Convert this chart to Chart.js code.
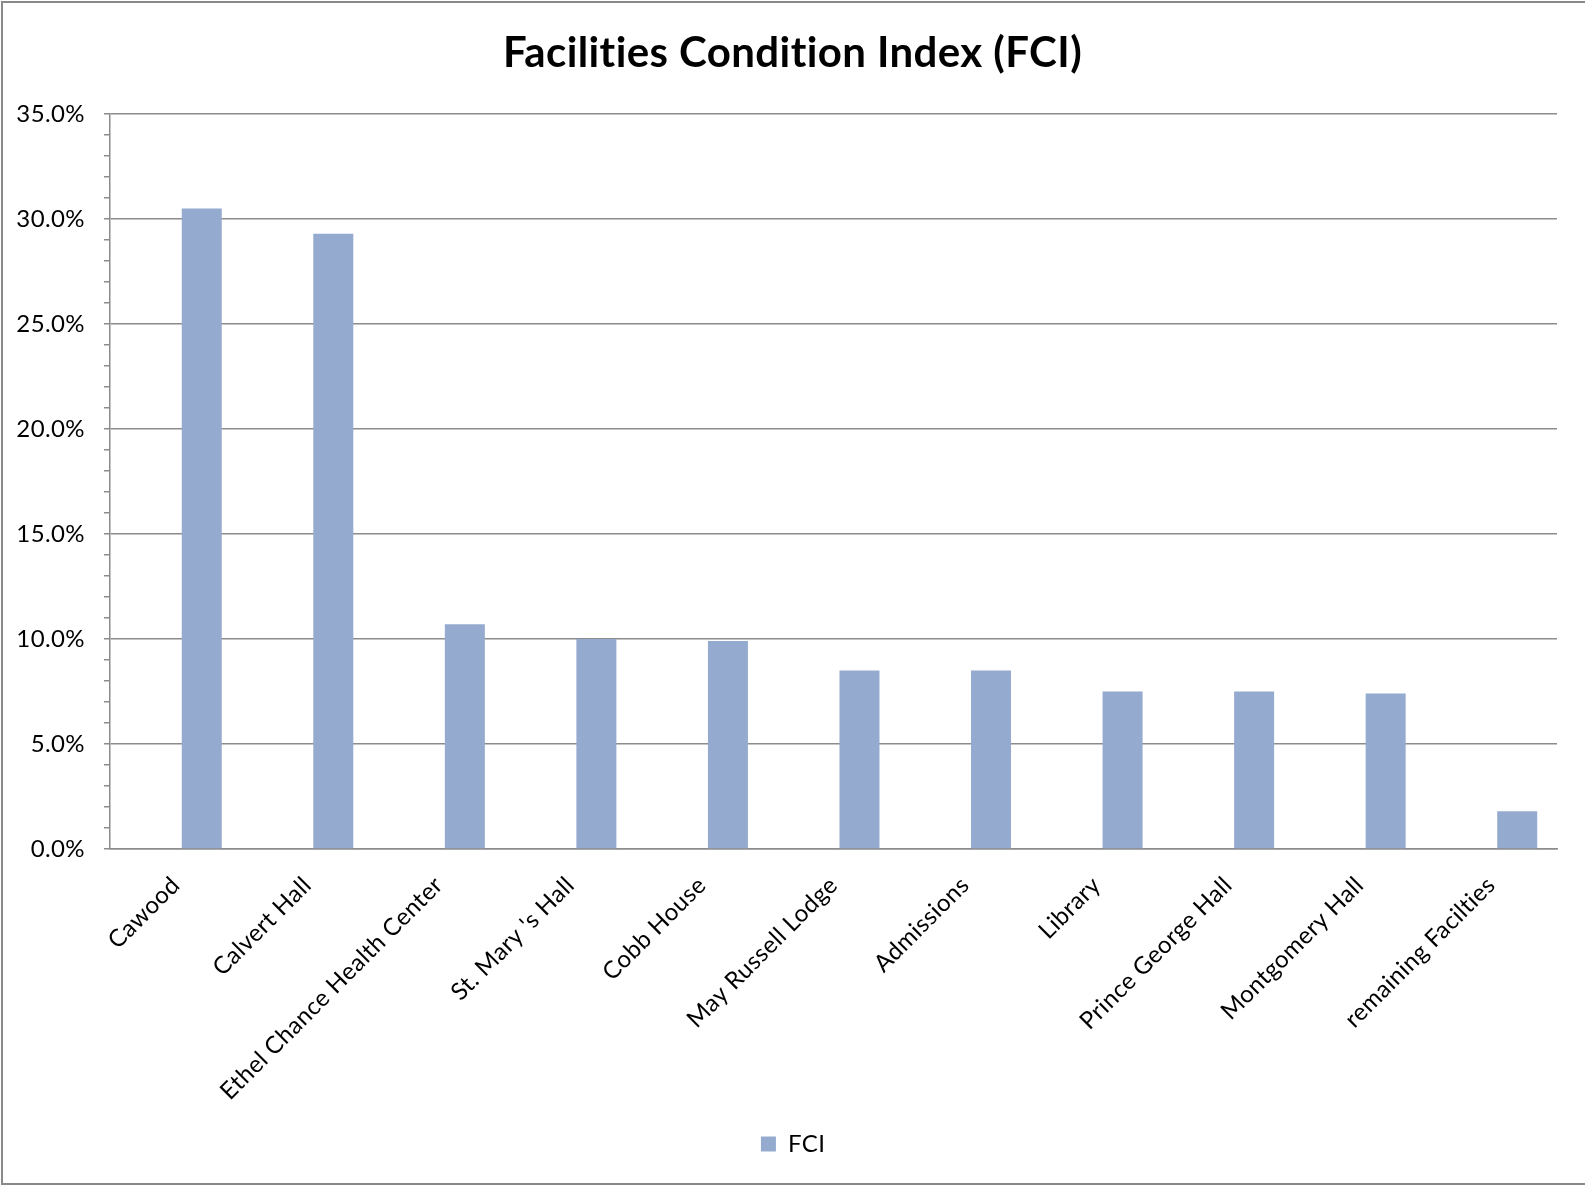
<!DOCTYPE html>
<html>
<head>
<meta charset="utf-8">
<script src="https://cdn.jsdelivr.net/npm/chart.js@4/dist/chart.umd.min.js"></script>
<style>
  html, body { margin: 0; padding: 0; background: #ffffff; }
  #wrap { width: 1585px; height: 1186px; position: relative; }
</style>
</head>
<body>
<div id="wrap"><canvas id="c" width="1585" height="1186"></canvas></div>
<script>
const categories = [
  "Cawood", "Calvert Hall", "Ethel Chance Health Center", "St. Mary 's Hall",
  "Cobb House", "May Russell Lodge", "Admissions", "Library",
  "Prince George Hall", "Montgomery Hall", "remaining Facilties"
];
const fciValues = [30.5, 29.3, 10.7, 10.0, 9.9, 8.5, 8.5, 7.5, 7.5, 7.4, 1.8];
const spacerValues = [null, null, null, null, null, null, null, null, null, null, null];
const yMin = 0;
const yMax = 35;
const yMajorStep = 5;
const yMinorStep = 1;

const FONT = "Lato, 'Liberation Sans', sans-serif";
const GRID = '#8c8c8c';
const BAR = '#95aacf';

const frame = {
  id: 'frame',
  beforeDraw(chart) {
    const ctx = chart.ctx;
    ctx.save();
    ctx.fillStyle = '#ffffff';
    ctx.fillRect(0, 0, chart.width, chart.height);
    ctx.restore();
    try { ctx.letterSpacing = '0.4px'; } catch (e) {}
  },
  afterDraw(chart) {
    const ctx = chart.ctx;
    ctx.save();
    ctx.strokeStyle = '#898989';
    ctx.lineWidth = 2;
    ctx.beginPath();
    ctx.moveTo(1585, 2); ctx.lineTo(2, 2); ctx.lineTo(2, 1184); ctx.lineTo(1585, 1184);
    ctx.stroke();
    ctx.restore();
  }
};

new Chart(document.getElementById('c'), {
  type: 'bar',
  data: {
    labels: categories,
    datasets: [
      { label: '', data: spacerValues, backgroundColor: 'rgba(0,0,0,0)' },
      { label: 'FCI', data: fciValues, backgroundColor: BAR, borderWidth: 0 }
    ]
  },
  options: {
    responsive: false,
    animation: false,
    devicePixelRatio: 1,
    layout: { padding: { top: 0, left: 0, right: 0, bottom: 20 } },
    datasets: { bar: { categoryPercentage: 0.79, barPercentage: 0.77 } },
    plugins: {
      title: {
        display: true,
        text: 'Facilities Condition Index (FCI)',
        color: '#000000',
        font: { family: FONT, size: 42, weight: 'bold', lineHeight: 1.2 },
        padding: { top: 28, bottom: 35.6 }
      },
      legend: {
        display: true,
        position: 'bottom',
        labels: {
          color: '#000000',
          font: { family: FONT, size: 24 },
          boxWidth: 15,
          boxHeight: 15,
          filter: (item) => item.text !== ''
        }
      },
      tooltip: { enabled: false }
    },
    scales: {
      x: {
        grid: { display: false, drawTicks: false },
        border: { display: true, color: GRID, width: 1.5 },
        ticks: {
          color: '#000000',
          font: { family: FONT, size: 24 },
          minRotation: 45,
          maxRotation: 45,
          padding: 22,
          autoSkip: false
        },
        afterFit(s) {
          const ch = s.chart;
          const lh = ch.legend ? ch.legend.height : 0;
          s.height = ch.height - 20 - lh - 849;
        }
      },
      y: {
        min: yMin,
        max: yMax,
        ticks: {
          stepSize: yMinorStep,
          autoSkip: false,
          color: '#000000',
          font: { family: FONT, size: 24 },
          padding: 19,
          callback: (v) => (v % yMajorStep === 0 ? v.toFixed(1) + '%' : '')
        },
        grid: {
          color: (c) => (c.tick && c.tick.value % yMajorStep === 0 ? GRID : 'rgba(0,0,0,0)'),
          lineWidth: 1.5,
          tickColor: GRID,
          tickLength: 6,
          drawTicks: true
        },
        border: { display: true, color: GRID, width: 1.5 },
        afterFit(s) { s.width = 110; }
      },
      yRightMargin: {
        position: 'right',
        min: yMin,
        max: yMax,
        grid: { display: false, drawTicks: false },
        border: { display: false },
        ticks: { display: false },
        afterFit(s) { s.width = 28; }
      }
    }
  },
  plugins: [frame]
});
</script>
</body>
</html>
